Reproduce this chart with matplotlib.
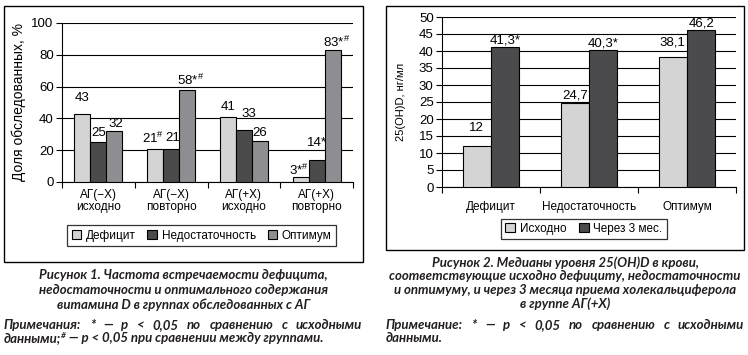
import numpy as np
import matplotlib
matplotlib.use("Agg")
import matplotlib.pyplot as plt
from matplotlib.patches import Rectangle
from matplotlib.font_manager import FontProperties

# --- data: figure 1
groups1 = ["АГ(−Х)\nисходно", "АГ(−Х)\nповторно", "АГ(+Х)\nисходно", "АГ(+Х)\nповторно"]
series1 = ["Дефицит", "Недостаточность", "Оптимум"]
deficit = [43, 21, 41, 3]
insufficient = [25, 21, 33, 14]
optimum = [32, 58, 26, 83]
labels1 = [
    ["43", "21$^{\\#}$", "41", "3*$^{\\#}$"],
    ["25", "21", "33", "14*"],
    ["32", "58*$^{\\#}$", "26", "83*$^{\\#}$"],
]

# --- data: figure 2
groups2 = ["Дефицит", "Недостаточность", "Оптимум"]
series2 = ["Исходно", "Через 3 мес."]
baseline = [12, 24.7, 38.1]
after3m = [41.3, 40.3, 46.2]
labels2 = [["12", "24,7", "38,1"], ["41,3*", "40,3*", "46,2"]]

# label offsets above bars (data units)
off1 = [[10, 6.7, 6, 4.5], [6, 6.7, 10, 10.5], [4.5, 6, 5, 5]]
dx1 = [[0, -0.03, 0, -0.02], [0, 0.02, 0.07, 0], [0.02, 0.05, 0, 0.05]]
off2 = [[5.4, 2.1, 4.5], [1.8, 1.8, 1.8]]

W, H = 748, 355
CH = ["Liberation Sans", "DejaVu Sans"]
CAP = FontProperties(family="Lato", weight="bold", style="italic", size=9.5)
SUP = FontProperties(family="Lato", weight="bold", style="italic", size=6)
TXT = "#231f20"
plt.rcParams["font.family"] = CH
plt.rcParams["mathtext.fontset"] = "custom"
plt.rcParams["mathtext.rm"] = "Liberation Sans"

fig = plt.figure(figsize=(W / 100, H / 100), dpi=100)


def box(px):
    x0, y0, x1, y1 = px
    return [x0 / W, 1 - y1 / H, (x1 - x0) / W, (y1 - y0) / H]


def frame(x0, y0, x1, y1):
    fig.patches.append(Rectangle((x0 / W, 1 - y1 / H), (x1 - x0) / W, (y1 - y0) / H,
                                 transform=fig.transFigure, fill=False,
                                 edgecolor="black", linewidth=1.0))


def style_axes(ax, ymax, step):
    ax.set_ylim(0, ymax)
    ax.set_yticks(np.arange(0, ymax + 1, step))
    ax.yaxis.grid(True, color="black", linewidth=0.8)
    ax.set_axisbelow(True)
    for s in ["top", "right"]:
        ax.spines[s].set_visible(False)
    ax.spines["left"].set_linewidth(0.8)
    ax.spines["bottom"].set_linewidth(0.8)
    ax.tick_params(axis="y", length=4, width=0.8, labelsize=9.5, pad=2)
    ax.tick_params(axis="x", which="major", length=0, labelsize=8.5, pad=5)
    ax.tick_params(axis="x", which="minor", length=4, width=0.8)


# ---------- figure 1
frame(4, 6, 363, 262)
ax1 = fig.add_axes(box((62, 23, 353, 182)))
x = np.arange(len(groups1))
bw = 0.22
colors1 = ["#d4d4d4", "#4b4b4b", "#8e8e92"]
for i, vals in enumerate([deficit, insufficient, optimum]):
    xs = x + (i - 1) * bw
    ax1.bar(xs, vals, bw, color=colors1[i], edgecolor="black", linewidth=0.8,
            label=series1[i], zorder=3)
    for j, v in enumerate(vals):
        ax1.text(xs[j] + dx1[i][j], v + off1[i][j], labels1[i][j], ha="center",
                 va="center", fontsize=9.5, color="black", zorder=4)
ax1.set_xlim(-0.5, len(groups1) - 0.5)
style_axes(ax1, 100, 20)
ax1.set_xticks(x)
ax1.set_xticklabels(groups1, linespacing=1.05)
ax1.set_xticks(np.arange(-0.5, len(groups1)), minor=True)
ax1.set_ylabel("Доля обследованных, %", fontsize=10, labelpad=4)
leg1 = fig.legend(*ax1.get_legend_handles_labels(), loc="center",
                  bbox_to_anchor=((75 + 328) / 2 / W, 1 - 235.5 / H), ncol=3,
                  frameon=True, fancybox=False, edgecolor="black", fontsize=8.5,
                  handlelength=0.8, handleheight=0.8, handletextpad=0.4,
                  columnspacing=1.0, borderpad=0.35, borderaxespad=0)
leg1.get_frame().set_linewidth(0.9)

# ---------- figure 2
frame(386, 6, 744, 250)
ax2 = fig.add_axes(box((442, 17, 736, 187)))
x2 = np.arange(len(groups2))
bw2 = 0.29
colors2 = ["#d4d4d4", "#4b4b4d"]
for i, vals in enumerate([baseline, after3m]):
    xs = x2 + (i - 0.5) * bw2
    ax2.bar(xs, vals, bw2, color=colors2[i], edgecolor="black", linewidth=0.8,
            label=series2[i], zorder=3)
    for j, v in enumerate(vals):
        ax2.text(xs[j], v + off2[i][j], labels2[i][j], ha="center", va="center",
                 fontsize=9.5, color="black", zorder=4)
ax2.set_xlim(-0.5, len(groups2) - 0.5)
style_axes(ax2, 50, 5)
ax2.set_xticks(x2)
ax2.set_xticklabels(groups2)
ax2.tick_params(axis="x", which="major", pad=10)
ax2.set_xticks(np.arange(-0.5, len(groups2)), minor=True)
ax2.set_ylabel("25(OH)D, нг/мл", fontsize=8, labelpad=9)
leg2 = fig.legend(*ax2.get_legend_handles_labels(), loc="center",
                  bbox_to_anchor=((504 + 664) / 2 / W, 1 - 229 / H), ncol=2,
                  frameon=True, fancybox=False, edgecolor="black", fontsize=8.5,
                  handlelength=0.8, handleheight=0.8, handletextpad=0.4,
                  columnspacing=1.1, borderpad=0.35, borderaxespad=0)
leg2.get_frame().set_linewidth(0.9)

# ---------- captions
cap1 = ["Рисунок 1. Частота встречаемости дефицита,",
        "недостаточности и оптимального содержания",
        "витамина D в группах обследованных с АГ"]
for k, line in enumerate(cap1):
    fig.text(183.5 / W, 1 - (275 + 15 * k) / H, line, ha="center", va="center",
             fontproperties=CAP, color=TXT)
cap2 = ["Рисунок 2. Медианы уровня 25(OH)D в крови,",
        "соответствующие исходно дефициту, недостаточности",
        "и оптимуму, и через 3 месяца приема холекальциферола",
        "в группе АГ(+X)"]
for k, line in enumerate(cap2):
    fig.text(565 / W, 1 - (263 + 13.5 * k) / H, line, ha="center", va="center",
             fontproperties=CAP, color=TXT)

renderer = fig.canvas.get_renderer()


def justify(line, x0, x1, y):
    words = line.split(" ")
    arts = [fig.text(0, 1 - y / H, w, ha="left", va="center", fontproperties=CAP,
                     color=TXT) for w in words]
    widths = [a.get_window_extent(renderer).width for a in arts]
    gap = ((x1 - x0) - sum(widths)) / (len(words) - 1)
    pos = x0
    for a, w in zip(arts, widths):
        a.set_x(pos / W)
        pos += w + gap


def pieces(parts, x0, y):
    pos = x0
    for s, fp, dy in parts:
        t = fig.text(pos / W, 1 - (y - dy) / H, s, ha="left", va="center",
                     fontproperties=fp, color=TXT)
        pos += t.get_window_extent(renderer).width


justify("Примечания: * — p < 0,05 по сравнению с исходными", 4, 362, 325)
pieces([("данными;", CAP, 0), ("#", SUP, 3),
        (" — p < 0,05 при сравнении между группами.", CAP, 0)], 4, 338.5)
justify("Примечание: * — p < 0,05 по сравнению с исходными", 386, 744, 325)
fig.text(386 / W, 1 - 338.5 / H, "данными.", ha="left", va="center",
         fontproperties=CAP, color=TXT)

fig.savefig("out.png", dpi=100)
